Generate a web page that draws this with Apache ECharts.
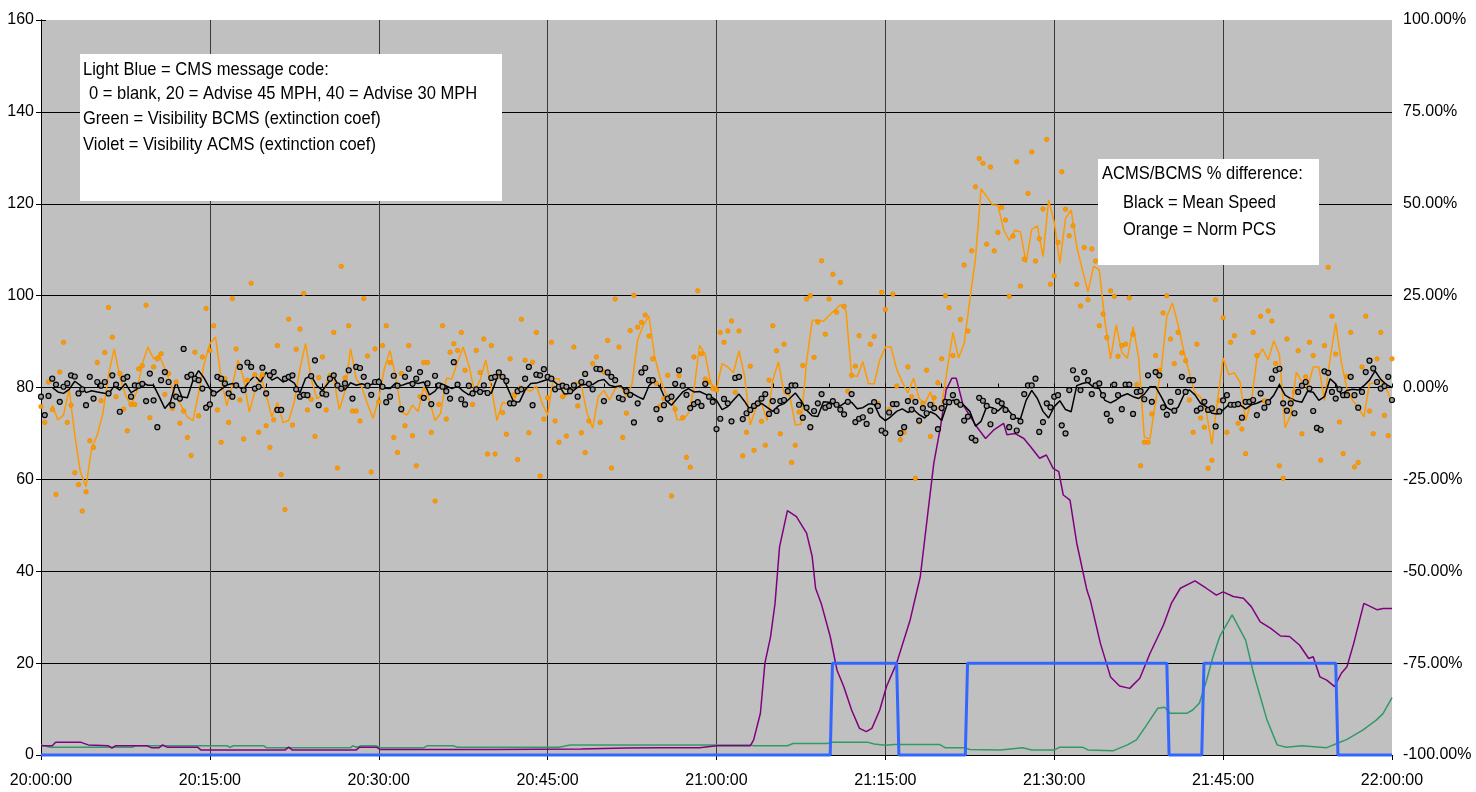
<!DOCTYPE html>
<html>
<head>
<meta charset="utf-8">
<title>CMS / visibility chart</title>
<script src="https://cdn.jsdelivr.net/npm/echarts@6/dist/echarts.min.js"></script>
<style>
  html, body { margin: 0; padding: 0; background: #fff; }
  #chart { width: 1476px; height: 792px; }
</style>
</head>
<body>
<div id="chart"></div>
<script>
// minutes after 20:00:00 for the CMS message code steps
var cmsTimes = [0, 70.1, 70.3, 76.0, 76.2, 82.1, 82.3, 100.0, 100.2, 103.1, 103.3, 115.0, 115.2, 120];
var cmsCode  = [0, 0, 20, 20, 0, 0, 20, 20, 0, 0, 20, 20, 0, 0];

// Visibility ACMS (violet), extinction coef
var acmsTimes = [0, 1.0, 1.3, 3.5, 4.2, 6.0, 6.3, 6.6, 9.4, 9.8, 10.5, 10.8, 11.2, 13.9, 14.2, 21.7, 22.0, 22.3, 28.0, 28.3, 29.8, 30.1,
  40, 48, 52, 55, 58.5, 60, 63, 63.3, 63.9, 64.3, 64.8, 65.2, 65.6, 66.3, 67.1, 68, 68.5, 68.8, 69.3, 70.1, 70.7, 71.3, 72, 72.7,
  73.3, 73.8, 74.5, 75.1, 76, 77.2, 78.1, 78.7, 79.3, 79.9, 80.4, 80.9, 81.3, 81.9, 83.1, 83.9, 84.6, 85.5, 85.8, 86.5, 87.3,
  87.9, 88.7, 89.3, 89.9, 90.4, 90.8, 91.4, 92, 92.9, 93.2, 94.1, 95, 95.8, 96.7, 97.6, 98.5, 99.7, 100.4, 101.2, 102.5, 103.5,
  104.4, 105, 105.9, 106.8, 107.5, 108.3, 109.2, 110.1, 110.9, 111.8, 112.6, 113, 113.6, 114.2, 114.9, 115.5, 116, 116.6, 117.5,
  118.1, 118.7, 119.2, 120];
var acmsVis = [2.0, 2.0, 2.8, 2.8, 2.2, 2.0, 1.5, 2.0, 2.0, 1.6, 1.6, 2.2, 1.7, 1.7, 1.1, 1.1, 1.7, 1.1, 1.1, 1.7, 1.7, 1.2,
  1.2, 1.3, 1.5, 1.6, 1.6, 2.0, 2.0, 3.3, 9.1, 20, 25.7, 33, 45.3, 53.2, 51.9, 48.3, 43.2, 36.3, 33, 25.8, 18.5, 14.9, 9.8, 5.8,
  5.1, 5.8, 9.8, 14.9, 20, 29.4, 38.8, 51.2, 63.5, 71.5, 79.5, 82, 82, 76.2, 71.5, 68.9, 70.7, 72.2, 69.7, 70, 68.9,
  67.1, 64.6, 65.3, 62.4, 61.7, 56.6, 55.5, 46.1, 35.9, 33.7, 24.3, 17, 15, 14.5, 16.7, 22.1, 28.3, 33, 36.3, 37.9, 36.3,
  34.8, 35.5, 34.5, 34.1, 32.3, 29, 27.6, 25.9, 25.8, 23.9, 21, 21.4, 17, 16.3, 14.9, 17.8, 19.2, 24.3, 33,
  32.3, 31.6, 31.9, 31.9];

// Visibility BCMS (green), extinction coef
var bcmsTimes = [0, 0.8, 8.1, 8.4, 16.5, 16.8, 17.1, 19.8, 20.0, 27.5, 27.7, 28.0, 28.5, 29.8, 30.1, 34.0, 34.3, 36.6, 37.0,
  46, 47, 63, 63.3, 66.3, 66.8, 69.8, 70.3, 73.4, 74, 75, 75.8, 79.8, 80.3, 82, 82.5, 85.2, 87.2, 88, 90, 90.5, 92.5, 93, 95.2,
  96.5, 97.3, 98.2, 99.2, 99.8, 100.3, 101.8, 102.3, 102.9, 103.5, 104.1, 104.7, 105.8, 107, 107.7, 108.9, 109.8, 110.6, 112,
  114.2, 115.1, 116, 117.4, 118.6, 119.2, 120];
var bcmsVis = [2.2, 1.7, 1.7, 2.0, 2.0, 1.7, 2.0, 2.0, 1.6, 1.6, 2.0, 1.7, 2.0, 2.0, 1.6, 1.6, 2.0, 2.0, 1.7,
  1.7, 2.2, 2.2, 2.0, 2.0, 2.5, 2.5, 2.8, 2.8, 2.4, 2.1, 2.3, 2.3, 1.6, 1.6, 1.2, 1.1, 1.6, 1.1, 1.1, 1.7, 1.7, 1.1, 0.9,
  2.2, 3.3, 6.5, 10.2, 10.4, 9.1, 9.1, 9.8, 11.3, 16, 21.4, 25.8, 30.5, 25, 17.8, 7.6, 2.2, 1.7, 2.0,
  1.6, 2.5, 3.4, 5.4, 7.6, 9, 12.5];

// ACMS/BCMS % difference, smoothed lines, one value every 30 s from 20:00:00
var speedLine = [
  null, null, 0, -1.2, -1.6, -0.5, 1.7, 0.6, -1.4, -0.9, -1.2, -1.5, -1.8, 0.4, -0.7, 1.1, -1.4, -0.5, 1.3, 0.6,
  0.6, -2.5, -5.7, -3.9, 1.5, -2.5, -2.8, 2, 4.6, 2.5, -0.3, -1.6, -0.5, 0.7, 1.1, 0.2, -0.5, 1.7, 3.2, 1.5,
  4.2, 2, 2.8, 1.5, 2.2, 1.2, -1.5, 2.5, 3.2, 0.5, -0.8, 1.2, 2.9, 0.1, -0.6, 1.3, 0.6, 1, 0.5, 1,
  2.4, -0.2, -0.3, 1.2, 0.5, 1.1, 1.5, 1.1, 1.5, -2, -1, 1.1, 0.4, -0.3, 0.4, -1, -2, -0.7, -1.2, -0.9,
  -1.6, 2.6, 3, -0.5, -4, -3.9, -0.7, 1.1, 1.2, 1.7, 2.2, 1.8, 0.5, -1.8, -1.6, -0.3, 0.7, 0.9, 0.8, 1.8,
  2.2, 0.6, 0.2, 0.5, -1.2, -1.6, -2.5, -3.2, 0.5, 2, 0, -3.5, -4.8, -3, -1.2, -0.3, -1.2, -1.1, -1.8, -2.5,
  -3.5, -6, -5.2, -3.5, -1.8, -3.8, -6.2, -5.2, -4.3, -5.4, -6.5, -5, -4.4, -3, -1.5, -3.5, -6.2, -7.7, -7.9, -3.9,
  -4, -4.6, -5, -4, -4, -5.8, -5.5, -4.5, -4.5, -7.8, -9, -7.9, -6.5, -5.8, -6.8, -6, -7.4, -8.3, -6.6, -7.4,
  -9, -4.5, -3.4, -4, -4.9, -6.5, -10.5, -9.2, -5.2, -5.5, -6.4, -5, -6.5, -8.3, -8.5, -3.5, -0.8, -3, -6.5, -8.3,
  -5.2, -3.6, -6, -6.6, 0.5, 1.1, 1.4, 0, -0.3, -3.5, -4.2, -3.4, -2.3, -1.7, -2.5, -3, -1.8, 0.2, 0.2, -2.5,
  -5.5, -6.3, -5.4, -2.1, -0.6, -2, -4.3, -5.2, -7, -7.2, -6.1, -4.7, -4.3, -4.7, -5.8, -4.7, -4.3, -3.6, -3.9, -2.1,
  0.8, -2.1, -3, -3.7, -4, -1, -1.3, -3.5, -2.5, 2.4, 1, -2, -0.8, -0.5, -0.7, 0.5, 2, 4.5, 2.2, 0.8,
  0];
var pcsLine = [
  null, null, -4.8, -8.8, -7.5, -0.5, -12.9, -23, -27, -16.5, -12.9, -7, 3.5, 10.5, 3, -2.1, -4.8, -1.2, 6.5, 11,
  7.8, 8.8, 5.1, 1, -2.5, -5.2, -8, -9, -1.5, 6.5, 12, 13.7, 2.5, -5, 0.6, 7.5, 2.4, -6.6, -1, 3.3,
  -2, -8, -4, -9.5, -9, -3.9, 5.1, 12, 2.4, -3, -2, 2.4, 2.4, -6, -1, 10.5, 2.4, 0, -4.5, -8.4,
  -3, 5.1, 10.1, 3, -6.6, -7.5, -4.8, -6.5, 0.2, -3.5, -9, -7, 2.5, 2.4, 7, 11, 6, -1, 2, 7.5,
  0, -9, -4, -4.5, -3.9, 0.5, -0.5, -1, 0.5, -4.2, -7.5, 2.4, 2.4, -2.5, -1, 1.5, 0.5, -7, -11.1, -2.5,
  -0.8, -3.4, -0.3, 0.3, -2.5, 1, 13, 17, 19.5, 8.5, 2.5, -1.8, -2.5, -8.8, -8.8, -7, -0.5, 11.5, 9, 1,
  -0.3, 6.5, 5.6, 4, 10, 3, -10.2, -5.5, -4.3, -9, 2, 7, -1.5, -2.1, -10.2, -10, 7, 18.2, 18.4, 18,
  19.6, 21, 22.5, 21, 3.3, 3, 7, 1, 1, 7.5, 11, 11, 5, 1.5, -1.5, 2.5, -3, -4.3, -1.2, -6,
  -5, 5, 15, 8, 12, 23.8, 35, 54, 52, 49.7, 49.6, 43, 40, 42.8, 42.3, 34, 43, 44, 35.6, 51,
  45, 33.8, 46, 48.3, 38.3, 32, 26, 33, 32, 18, 7.8, 17, 9.5, 8, 16.5, 8, -13.5, -14, -4, 5,
  19.4, 23, 17, 10, 4, -1.5, -2.6, -6.5, -15.5, -3.5, 8, 3.5, 4, 1.5, -9, -3.9, 7.8, 10.5, 7.5, 12.7,
  9, -11, -7.4, 4.2, 1.5, -0.2, 5.6, 5.6, -3.5, 7.8, 17.5, 7, -0.5, -3.5, -5.5, -8, 1, 1.3, 1.8, -0.3,
  -4];

// raw % difference points, one every 20 s from 20:00:00
var speedPts = [
  -2.5, -7.5, -2.3, 2.4, 0.8, -3.9, 0.2, 1.1, 3.3, 3.0, -1.6, -0.5, -4.8, 2.9, -3.0,
  1.5, 0.5, 1.5, -1.6, 3.3, 0.8, -6.6, 2.4, 2.9, -2.5, 0.6, 0.5, 1.0, -3.7, 3.8,
  -3.5, -10.8, 2.0, 4.2, 1.5, -4.8, -2.5, -3.0, 10.5, 2.9, 3.5, 2.4, 2.0, -0.3, -5.5,
  -4.6, -1.6, 2.9, 2.4, 1.1, -1.6, -2.5, 0.6, 5.6, -0.7, 6.8, 5.6, -0.3, 0.2, 5.4,
  -1.6, 3.3, 4.2, -6.1, -6.1, 2.4, 2.9, 3.3, -0.5, -2.5, -2.0, -2.1, 3.1, 7.4, -4.8,
  -1.6, -1.9, 2.4, 3.3, 0.6, -0.3, 1.1, 4.7, -3.0, 5.6, 5.3, 2.9, 0.5, -2.0, 1.5,
  1.5, 0.2, -4.0, -2.5, 3.2, 0.5, -5.9, 2.9, 5.1, 1.0, 2.4, 4.2, -2.8, 1.1, -4.5,
  3.2, 0.6, 0.2, -1.0, -3.0, 6.9, 0.8, -3.2, -4.6, 0.5, -1.6, -0.5, -1.2, 0.6, -1.5,
  2.6, 2.9, 4.1, 2.9, 1.8, -4.3, -4.3, -1.0, -0.5, 2.4, 5.6, -4.8, 3.5, 3.3, 5.0,
  2.9, 2.4, -0.5, 0.2, 0.5, 0.2, -1.0, 0.6, -2.5, 1.5, 3.7, 1.0, -0.5, 5.1, 5.0,
  -3.7, 4.1, 2.9, 2.0, -2.8, -3.2, -1.0, -2.0, -9.5, -4.3, 4.1, 5.3, 2.0, 2.0, -5.9,
  -8.6, -4.8, -3.0, -2.5, 1.0, 4.7, 0.5, -2.0, -5.6, -4.5, -4.0, -5.0, 1.0, -2.5, -3.9,
  -11.3, -8.5, -3.1, -4.3, -9.2, 2.6, 2.9, -8.6, -7.0, -6.1, -5.0, -4.3, -3.0, -1.8, -7.2,
  -3.7, -6.4, -3.7, -3.4, -1.0, 0.6, 0.6, -4.7, -8.2, -5.5, -10.8, -6.4, -4.3, -1.8, -5.5,
  -5.0, -3.7, -4.7, -6.0, -7.3, -3.9, -1.8, -9.4, -8.5, -8.1, -9.9, -6.3, -4.0, -5.0, -11.7,
  -12.4, -6.8, -4.5, -4.5, -12.4, -10.8, -3.7, -6.0, -3.9, -9.0, -5.6, -7.0, -4.7, -5.6, -11.3,
  -5.6, -3.9, -4.0, -2.1, -3.9, -4.7, -9.0, -7.9, -13.7, -14.4, -2.8, -3.6, -5.0, -10.0, -6.4,
  -3.7, -4.3, -6.1, -10.8, -8.0, -11.7, -9.2, -1.8, 0.6, 0.6, 2.4, -12.1, -9.4, -4.3, -5.4,
  -2.5, -2.1, -10.3, -12.5, -0.7, 4.7, 2.4, -0.7, 4.2, 2.0, -1.8, 0.6, 1.1, -2.1, -7.2,
  -9.0, 0.8, -2.1, -5.9, 0.8, 0.8, -7.2, -1.2, -1.0, -3.2, 3.3, -3.9, 4.2, 3.3, -5.4,
  -7.4, -3.9, -6.3, -1.2, 2.9, -1.2, 2.0, 2.0, -6.3, -5.7, -3.9, -6.1, -5.7, -10.6, -6.5,
  -3.5, -2.1, -4.7, -4.7, -4.5, -8.2, -3.9, -3.9, -3.4, -7.5, -1.6, -5.5, -4.0, 2.4, 4.7,
  5.1, -4.3, -6.3, -4.3, -7.0, -1.2, 0.5, 1.5, -0.3, -6.4, -11.0, -11.5, 4.4, 4.0, -1.2,
  -3.0, -0.5, -2.1, -2.1, 2.9, -2.1, -5.5, -1.2, 4.2, 7.3, 5.2, 1.5, -0.3, 0.4, 2.9,
  -3.4];
var pcsPts = [
  -5.2, -9.5, 1.5, -6.0, -29.1, 4.2, 12.3, -9.5, -4.8, -23.2, -26.4, -33.6, -28.4, -14.5, -16.3,
  6.8, -3.6, 9.5, 21.8, 13.7, -2.5, 3.8, -5.9, -11.8, -4.6, -4.6, 5.1, 5.9, 22.4, -8.2,
  5.6, 7.8, 9.2, -1.9, 3.8, -5.7, 1.5, -9.7, -6.4, -13.6, -18.5, 9.6, -7.7, 8.3, 21.5,
  10.1, 16.8, -6.1, -14.9, 2.4, -9.5, 24.2, 10.5, -3.4, -14.0, 2.0, 28.4, 3.5, -12.2, 3.5,
  -10.4, -16.3, -8.8, 11.4, -23.7, -33.2, 18.6, -10.2, 10.4, 15.9, 25.6, -6.1, -3.2, -13.3, 2.7,
  8.3, -6.1, 3.2, 15.0, -21.9, 33.0, 2.6, 16.8, -6.4, -6.4, -9.1, 24.2, 8.6, -23.0, 10.5,
  -3.9, 11.4, 16.8, 6.8, -13.6, -17.7, 3.8, -10.4, 11.4, -13.1, -21.3, -2.5, 6.8, 6.8, -12.2,
  -30.9, -4.6, 16.8, -8.6, 9.6, 11.9, 10.1, 15.0, 4.7, 0.2, -4.6, 10.1, 4.1, 13.2, -18.1,
  11.4, -18.1, 3.1, -6.8, -12.7, 7.8, -2.0, -19.6, 18.6, 7.4, -12.3, 6.9, 15.0, -24.1, -8.6,
  -2.8, 12.3, -9.1, -14.9, -2.5, -13.2, -1.0, 11.0, -5.0, -12.3, -17.7, -9.1, 6.5, 8.3, -9.5,
  4.2, 12.8, -21.9, 24.1, 11.0, -13.6, -7.0, 15.5, 25.1, 16.4, 17.7, 19.7, 14.0, 7.8, 1.1,
  -5.0, -3.0, 3.3, -29.5, -5.9, 3.2, -8.2, -19.0, -21.7, 8.3, 26.3, 9.2, 2.3, 1.5, -0.3,
  -0.7, 15.0, 12.3, 15.4, 18.1, -1.3, 15.4, -18.6, -12.2, 5.8, -17.1, -4.0, -9.2, -15.7, 2.0,
  16.8, 10.0, -12.6, 11.8, -1.0, -20.4, -15.7, -6.7, 6.0, 24.1, 25.0, 8.2, 17.8, 34.5, 14.5,
  24.1, 30.8, 20.5, 28.6, 22.1, -1.0, 3.3, 5.8, 14.1, -8.3, -9.9, 11.8, 13.9, -4.3, 25.9,
  21.2, -6.0, 25.4, 0.4, -14.2, -12.2, 5.6, -2.5, -24.7, -9.4, -4.3, 4.7, -13.3, -2.8, 1.3,
  7.8, 25.0, 21.7, 8.7, -4.3, 18.5, 33.3, 15.4, 37.2, 54.6, 62.3, 61.0, 39.0, 60.0, 37.2,
  42.2, 49.0, 45.6, 24.8, 41.2, 61.4, 27.6, 34.9, 52.8, 64.1, 34.4, 40.5, 48.6, 67.5, 28.1,
  30.4, 39.5, 58.7, 48.5, 41.3, 44.0, 28.1, 22.2, 38.1, 23.9, 37.7, 34.4, 16.8, 20.0, 13.6,
  26.3, 24.8, 8.5, 11.4, 11.8, 24.4, 14.5, 0.8, -21.3, -14.9, -14.9, -7.2, 8.7, 4.7, 20.3,
  25.0, 13.2, 6.5, 15.0, 9.4, 7.3, -3.4, -12.2, 11.8, -8.3, -10.8, -22.0, -19.8, 23.9, -3.6,
  19.0, -12.2, 12.3, 14.1, -9.7, -11.3, -18.0, -3.6, 15.0, 8.7, 19.4, -3.6, 20.8, 18.1, 6.5,
  -21.3, -24.7, 13.2, -3.7, -1.2, 10.0, -12.6, 2.9, 12.3, 8.7, -11.3, -19.8, 11.4, 32.7, 19.4,
  9.1, -9.4, -18.0, 3.0, 15.0, -21.6, -20.4, 5.6, 19.4, -6.4, -12.6, 7.8, 15.0, -7.6, -13.1,
  7.8];

var leftTicks  = { min: 0, max: 160, step: 20 };
var rightTicks = { min: -100, max: 100, step: 25 };

var FONT = "'Liberation Sans', Arial, sans-serif";
var NOTE_FONT = '19px ' + FONT;
var SQUEEZE = 0.87;   // the original text is set very narrow

function pairs(times, vals) {
  return vals.map(function (v, i) { return [times[i], v]; });
}
function stepped(vals, step) {
  return vals.map(function (v, i) { return [i * step, v]; });
}
function clock(m) {
  var h = 20 + Math.floor(m / 60), mm = Math.round(m % 60);
  return h + ':' + (mm < 10 ? '0' + mm : mm) + ':00';
}
function note(x, y, txt) {
  return {
    type: 'text', x: x, y: y, scaleX: SQUEEZE, z: 101,
    style: { text: txt, font: NOTE_FONT, fill: '#000', verticalAlign: 'middle' }
  };
}
function box(x, y, w, h) {
  return { type: 'rect', z: 100, shape: { x: x, y: y, width: w, height: h }, style: { fill: '#ffffff' } };
}

var chart = echarts.init(document.getElementById('chart'), null, { renderer: 'canvas' });

var option = {
  animation: false,
  backgroundColor: '#ffffff',
  textStyle: { fontFamily: FONT },
  grid: {
    left: 41, right: 84, top: 20, bottom: 37,
    show: true, backgroundColor: '#C0C0C0', borderWidth: 0
  },
  xAxis: [{
    type: 'value', min: 0, max: 120, interval: 15,
    axisLine: { lineStyle: { color: '#000', width: 1 } },
    axisTick: { length: 5, lineStyle: { color: '#000' } },
    axisLabel: { formatter: clock, color: '#000', fontSize: 16, fontFamily: FONT, margin: 18 },
    splitLine: { show: true, showMinLine: false, showMaxLine: false, lineStyle: { color: '#3a3a3a', width: 1 } }
  }, {
    // minor 5 min ticks, pointing into the plot
    type: 'value', min: 0, max: 120, interval: 5, position: 'bottom',
    axisLine: { show: false },
    axisTick: { inside: true, length: 4, lineStyle: { color: '#000' } },
    axisLabel: { show: false },
    splitLine: { show: false }
  }],
  yAxis: [{
    type: 'value', min: leftTicks.min, max: leftTicks.max, interval: leftTicks.step,
    axisLine: { show: true, lineStyle: { color: '#000' } },
    axisTick: { show: true, length: 5, lineStyle: { color: '#000' } },
    axisLabel: { color: '#000', fontSize: 16, fontFamily: FONT, margin: 7 },
    splitLine: { show: true, showMaxLine: false, lineStyle: { color: '#000', width: 1 } }
  }, {
    type: 'value', position: 'right', min: rightTicks.min, max: rightTicks.max, interval: rightTicks.step,
    axisLine: { show: true, lineStyle: { color: '#000' } },
    axisTick: { show: true, length: 5, lineStyle: { color: '#000' } },
    axisLabel: {
      color: '#000', fontSize: 16, fontFamily: FONT, margin: 11,
      formatter: function (v) { return v.toFixed(2) + '%'; }
    },
    splitLine: { show: false }
  }],
  series: [{
    name: 'Visibility BCMS', type: 'line', yAxisIndex: 0, data: pairs(bcmsTimes, bcmsVis),
    showSymbol: false, lineStyle: { color: '#339966', width: 1.5 }, z: 2
  }, {
    name: 'Visibility ACMS', type: 'line', yAxisIndex: 0, data: pairs(acmsTimes, acmsVis),
    showSymbol: false, lineStyle: { color: '#800080', width: 1.5 }, z: 3
  }, {
    name: 'CMS message code', type: 'line', yAxisIndex: 0, data: pairs(cmsTimes, cmsCode),
    showSymbol: false, clip: false, lineStyle: { color: '#3366FF', width: 3 }, z: 4
  }, {
    name: 'Norm PCS', type: 'line', yAxisIndex: 1, data: stepped(pcsLine, 0.5),
    showSymbol: false, connectNulls: false, lineStyle: { color: '#FF9900', width: 1.5 }, z: 5
  }, {
    name: 'Mean Speed', type: 'line', yAxisIndex: 1, data: stepped(speedLine, 0.5),
    showSymbol: false, connectNulls: false, lineStyle: { color: '#000000', width: 1.5 }, z: 6
  }, {
    name: 'Norm PCS pts', type: 'scatter', yAxisIndex: 1, data: stepped(pcsPts, 1 / 3),
    symbol: 'circle', symbolSize: 4.5,
    itemStyle: { color: '#FF9900', borderColor: '#E08800', borderWidth: 0.6, opacity: 1 }, z: 7
  }, {
    name: 'Mean Speed pts', type: 'scatter', yAxisIndex: 1, data: stepped(speedPts, 1 / 3),
    symbol: 'circle', symbolSize: 5,
    itemStyle: { color: '#9a9a9a', borderColor: '#000000', borderWidth: 1.2, opacity: 1 }, z: 8
  }],
  graphic: [
    // left note
    box(80, 54, 422, 147),
    note(83, 70, 'Light Blue = CMS message code:'),
    note(89, 94, '0 = blank, 20 = Advise 45 MPH, 40 = Advise 30 MPH'),
    note(83, 119, 'Green = Visibility BCMS (extinction coef)'),
    note(83, 145, 'Violet = Visibility ACMS (extinction coef)'),
    // right note
    box(1098, 159, 221, 106),
    note(1102, 174, 'ACMS/BCMS % difference:'),
    note(1123, 203, 'Black = Mean Speed'),
    note(1123, 230, 'Orange = Norm PCS')
  ]
};

chart.setOption(option);
</script>
</body>
</html>
